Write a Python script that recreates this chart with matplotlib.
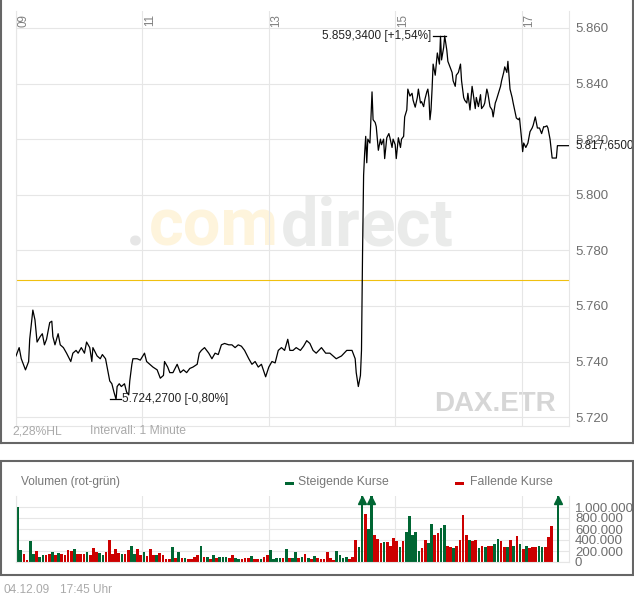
import matplotlib
matplotlib.use("Agg")
import matplotlib.pyplot as plt
from matplotlib.lines import Line2D
from matplotlib.patches import Rectangle

plt.rcParams["font.family"] = ["Liberation Sans", "DejaVu Sans"]

# ---------------------------------------------------------------
# DAX (Xetra) 04.12.09, 1-minute line, minutes after 09:00
# ---------------------------------------------------------------
t_min = [0, 3, 5, 9, 12, 13, 16, 18, 20, 23, 25, 27, 29, 32, 34, 35, 37, 40, 42, 45,
         48, 52, 54, 57, 59, 62, 65, 67, 70, 72, 73, 77, 80, 82, 85, 87, 89, 91, 93, 95,
         96, 98, 100, 103, 105, 107, 108, 110, 111, 115, 118, 122, 124, 127, 130, 134, 137, 140, 141, 144,
         146, 149, 153, 156, 159, 162, 165, 168, 172, 174, 176, 179, 183, 186, 189, 192, 195, 198, 202, 205,
         208, 211, 214, 217, 221, 224, 227, 230, 233, 237, 240, 243, 246, 249, 252, 255, 258, 260, 263, 266,
         270, 273, 276, 279, 282, 285, 290, 294, 298, 304, 309, 314, 319, 322, 323, 325, 327, 328,
         329, 330, 331, 332, 333, 334, 336, 338, 339, 341, 342, 344, 346, 347, 349, 350, 352, 354, 355, 357,
         358, 360, 361, 363, 365, 366, 368, 369, 371, 372, 374, 376, 377, 379, 381, 382, 384, 385, 387, 388,
         390, 391, 392, 393, 394, 395, 396, 398, 400, 402, 403, 404, 406, 407, 409, 410, 412, 414, 415, 417,
         418, 420, 422, 423, 425, 426, 428, 429, 431, 433, 434, 436, 437, 439, 441, 442, 444, 445, 447, 448,
         450, 452, 453, 455, 456, 458, 460, 461, 463, 464, 466, 467, 469, 471, 472, 474, 475, 477, 478, 480,
         481, 482, 484, 486, 488, 490, 491, 493, 495, 497, 499, 501, 502, 504, 505, 507, 509, 513, 514, 525]

price = [5742, 5745, 5741, 5737, 5740, 5748, 5758.5, 5755, 5747, 5749, 5750, 5746, 5748, 5754, 5754.5, 5749, 5746, 5750, 5746, 5745,
         5743, 5740, 5743, 5744, 5743, 5745, 5743, 5747, 5745, 5740, 5745, 5742, 5741, 5742.5, 5741, 5737, 5733, 5732, 5729, 5726.4,
         5731, 5732, 5731, 5732, 5729, 5728, 5733, 5739, 5741, 5741, 5740.5, 5743, 5740, 5739, 5738, 5737, 5734, 5735, 5740, 5738,
         5736, 5736, 5739, 5736, 5737, 5736, 5737.5, 5738, 5739, 5743, 5744, 5745, 5743, 5741, 5743, 5742.5, 5746, 5746.5, 5746, 5746,
         5745, 5746, 5745.5, 5744, 5741, 5739, 5740, 5738, 5739, 5734.5, 5738, 5740, 5739.5, 5744, 5745, 5744, 5748, 5744, 5744, 5745,
         5744, 5745.5, 5747.5, 5746.5, 5744, 5743, 5745, 5743, 5743, 5741, 5742, 5744, 5744, 5741, 5736, 5731, 5735, 5744,
         5779, 5807, 5815, 5821, 5811.5, 5820, 5818.6, 5837, 5827, 5826, 5824.5, 5816, 5820, 5818, 5820, 5813, 5820.5, 5822, 5820.5, 5817,
         5820, 5818, 5813, 5820.5, 5817, 5820, 5821, 5828, 5830.5, 5838, 5835.5, 5836.5, 5834, 5831.5, 5835, 5838, 5833, 5833.5, 5831.7, 5834,
         5837, 5838, 5835, 5827, 5830.5, 5838, 5847, 5843, 5851, 5847, 5857, 5848.5, 5853, 5857.1, 5852, 5848, 5846, 5844, 5841, 5839,
         5843, 5844, 5847, 5841, 5835, 5834, 5833, 5836.5, 5830.5, 5839, 5836.5, 5831, 5835, 5831.7, 5836, 5831, 5832, 5833, 5838, 5836.5,
         5831.7, 5830.5, 5828, 5833, 5834, 5836.5, 5839, 5841, 5844, 5846, 5844, 5848, 5838, 5835, 5833, 5829.5, 5827.6, 5827, 5827.6, 5820,
         5815.5, 5818.6, 5817, 5818.6, 5822.7, 5824, 5825, 5828, 5824, 5824, 5822, 5824.5, 5824.4, 5824.8, 5824, 5820, 5813.2, 5813.2, 5817.65, 5817.65]

prev_close = 5769.5
high_label = "5.859,3400 [+1,54%]"
low_label = "5.724,2700 [-0,80%]"
last_label = "5.817,6500"

hour_pos = [0, 120, 240, 360, 480]
hour_labels = ["09", "11", "13", "15", "17"]
price_ticks = [5720, 5740, 5760, 5780, 5800, 5820, 5840, 5860]

# volume in thousands, one bar per 3 minutes; 1 = rising (green), 0 = falling (red)
vol_step = 3
volume = [1000, 220, 150, 40, 375, 150, 195, 100, 130, 130, 150, 180, 120, 160, 140, 120, 210, 200, 230, 150,
          140, 150, 190, 120, 260, 180, 160, 120, 180, 400, 150, 240, 160, 150, 150, 220, 300, 150, 230, 120,
          190, 110, 230, 120, 130, 170, 130, 60, 60, 280, 80, 180, 80, 80, 60, 60, 90, 120, 290, 100,
          100, 60, 130, 80, 90, 100, 100, 80, 130, 70, 60, 60, 80, 70, 110, 60, 50, 60, 90, 130,
          210, 60, 80, 80, 80, 240, 80, 80, 180, 80, 100, 150, 80, 60, 110, 70, 60, 60, 180, 80,
          40, 200, 120, 80, 90, 60, 90, 400, 280, 1400, 870, 600, 1400, 500, 420, 350, 370, 370, 300, 440,
          380, 280, 380, 550, 830, 500, 550, 200, 250, 400, 350, 700, 500, 520, 620, 680, 300, 280, 250, 300,
          400, 850, 500, 400, 380, 400, 250, 300, 280, 300, 300, 320, 420, 380, 280, 280, 400, 300, 480, 320,
          230, 300, 260, 280, 280, 300, 280, 280, 450, 650, 0, 1400, 0, 0, 0]
vol_up = [1, 1, 0, 0, 1, 1, 0, 1, 1, 0, 0, 1, 0, 1, 0, 0, 0, 0, 1, 0,
          0, 0, 1, 0, 0, 0, 1, 1, 0, 0, 0, 0, 0, 1, 0, 0, 1, 1, 0, 0,
          1, 0, 0, 0, 1, 0, 0, 0, 0, 1, 0, 1, 0, 1, 0, 0, 0, 0, 1, 0,
          1, 0, 1, 0, 1, 1, 1, 0, 0, 1, 1, 0, 0, 0, 1, 0, 0, 1, 0, 0,
          1, 1, 1, 1, 0, 1, 0, 1, 1, 0, 1, 0, 1, 0, 1, 0, 0, 0, 0, 0,
          0, 1, 1, 1, 1, 0, 0, 0, 1, 1, 0, 1, 1, 0, 0, 0, 1, 0, 0, 0,
          0, 1, 0, 1, 1, 1, 1, 1, 0, 0, 1, 1, 0, 0, 1, 1, 0, 0, 1, 0,
          0, 0, 0, 1, 0, 0, 1, 0, 1, 0, 0, 1, 1, 0, 0, 1, 0, 1, 0, 1,
          0, 1, 0, 0, 0, 1, 1, 0, 0, 0, 0, 1, 0, 0, 0]
vol_ticks = [0, 200000, 400000, 600000, 800000, 1000000]

GREEN = "#006633"
RED = "#cc0000"
GRID = "#e6e6e6"
W, H = 634, 597


def fx(px):
    return px / W


def fy(py):
    return 1 - py / H


def de_num(v):
    return f"{v:,.0f}".replace(",", ".")


fig = plt.figure(figsize=(W / 100, H / 100), dpi=100)

# -----------------------------
# price panel
# -----------------------------
ax = fig.add_axes([fx(16), fy(426), 553 / W, 415 / H])
ax.set_xlim(0, 525)
ax.set_ylim(5716.8, 5866.1)
ax.set_xticks(hour_pos)
ax.set_xticklabels([])
ax.set_yticks(price_ticks)
ax.set_yticklabels([de_num(v) for v in price_ticks])
ax.yaxis.tick_right()
ax.tick_params(axis="x", length=0)
ax.tick_params(axis="y", length=0, pad=4.3, labelsize=9.5, labelcolor="#6e6e6e")
ax.grid(True, color=GRID, lw=0.8, zorder=1)
ax.set_axisbelow(True)
for side in ["left", "right", "bottom"]:
    ax.spines[side].set_color(GRID)
    ax.spines[side].set_linewidth(0.8)
ax.spines["top"].set_visible(False)

# watermark
wm = dict(transform=ax.transAxes, va="baseline", fontsize=48, fontweight="bold",
          family="Roboto", zorder=0.5)
ax.text(0.233, 0.436, ".", ha="right", color="#e6e6e6", **wm)
ax.text(0.476, 0.436, "com", ha="right", color="#fef4dc", **wm)
ax.text(0.479, 0.436, "direct", ha="left", color="#eaebea", **wm)

ax.text(0.976, 0.053, "DAX.ETR", transform=ax.transAxes, ha="right", va="center",
        fontsize=20, fontweight="bold", color="#d6d6d6", zorder=0.5)

ax.axhline(prev_close, color="#f0c010", lw=0.8, zorder=2)
ax.plot(t_min, price, color="black", lw=0.9, zorder=3)

for pos, lab in zip(hour_pos, hour_labels):
    ax.annotate(lab, xy=(pos, 0.978), xycoords=("data", "axes fraction"),
                xytext=(1.5, 0), textcoords="offset pixels", rotation=90,
                ha="left", va="center", fontsize=8.4, color="#808080")

# high / low markers
i_hi = price.index(max(price))
i_lo = price.index(min(price))
t_hi, p_hi = t_min[i_hi], price[i_hi]
t_lo, p_lo = t_min[i_lo], price[i_lo]
ax.plot([t_hi - 11, t_hi + 1], [p_hi, p_hi], color="black", lw=0.9, zorder=3)
ax.text(t_hi - 13, p_hi, high_label, ha="right", va="center", fontsize=8.5, color="#222222")
ax.plot([t_lo - 6, t_lo + 5], [p_lo, p_lo], color="black", lw=0.9, zorder=3)
ax.text(t_lo + 5.5, p_lo, low_label, ha="left", va="center", fontsize=8.5, color="#222222")

# last price
ax.annotate(last_label, xy=(1, price[-1]), xycoords=("axes fraction", "data"),
            xytext=(6, 0), textcoords="offset pixels", ha="left", va="center",
            fontsize=8.4, color="#222222", annotation_clip=False)

fig.text(fx(12), fy(431), "2,28%HL", ha="left", va="center", fontsize=8.7, color="#aaaaaa")
fig.text(fx(90.5), fy(431), "Intervall: 1 Minute", ha="left", va="center", fontsize=8.7, color="#aaaaaa")

# -----------------------------
# volume panel
# -----------------------------
vol_top = 1200000
axv = fig.add_axes([fx(16), fy(562), 553 / W, 66 / H])
axv.set_xlim(0, 525)
axv.set_ylim(0, vol_top)
axv.set_xticks(hour_pos)
axv.set_xticklabels([])
axv.set_yticks(vol_ticks)
axv.set_yticklabels([de_num(v) for v in vol_ticks])
axv.yaxis.tick_right()
axv.tick_params(axis="x", length=0)
axv.tick_params(axis="y", length=0, pad=4.3, labelsize=9.5, labelcolor="#6e6e6e")
axv.grid(True, color=GRID, lw=0.8)
axv.set_axisbelow(True)
for side in ["left", "right", "bottom"]:
    axv.spines[side].set_color(GRID)
    axv.spines[side].set_linewidth(0.8)
axv.spines["top"].set_visible(False)

xs = [i * vol_step + vol_step / 2 for i in range(len(volume))]
vals = [v * 1000 for v in volume]
heights = [min(v, vol_top) for v in vals]
colors = [GREEN if u else RED for u in vol_up]
axv.bar(xs, heights, width=vol_step * 0.86, color=colors, linewidth=0, zorder=2)
for x, v, c in zip(xs, vals, colors):
    if v > vol_top:
        axv.plot([x], [vol_top * 0.945], marker="^", markersize=6, color=c,
                 clip_on=False, zorder=3)

fig.text(fx(21), fy(482), "Volumen (rot-grün)", ha="left", va="center", fontsize=8.6, color="#777777")
fig.add_artist(Rectangle((fx(285), fy(484.5)), 9 / W, 3 / H, transform=fig.transFigure,
                         color=GREEN, lw=0))
fig.text(fx(298), fy(482), "Steigende Kurse", ha="left", va="center", fontsize=8.8, color="#777777")
fig.add_artist(Rectangle((fx(455), fy(484.5)), 9 / W, 3 / H, transform=fig.transFigure,
                         color=RED, lw=0))
fig.text(fx(470), fy(482), "Fallende Kurse", ha="left", va="center", fontsize=8.8, color="#777777")

fig.text(fx(3), fy(590), "04.12.09", ha="left", va="center", fontsize=8.6, color="#aaaaaa")
fig.text(fx(60), fy(590), "17:45 Uhr", ha="left", va="center", fontsize=8.6, color="#aaaaaa")

# -----------------------------
# panel frames
# -----------------------------
frame = dict(transform=fig.transFigure, color="#666666", lw=1.5)
fig.add_artist(Line2D([fx(1), fx(1)], [fy(0), fy(443)], **frame))
fig.add_artist(Line2D([fx(632.5), fx(632.5)], [fy(0), fy(443)], **frame))
fig.add_artist(Line2D([fx(0), fx(633)], [fy(443), fy(443)], **frame))
fig.add_artist(Rectangle((fx(1), fy(575)), 631.5 / W, 114 / H, transform=fig.transFigure,
                         fill=False, edgecolor="#666666", lw=1.5))

fig.savefig("out.png", dpi=100)
